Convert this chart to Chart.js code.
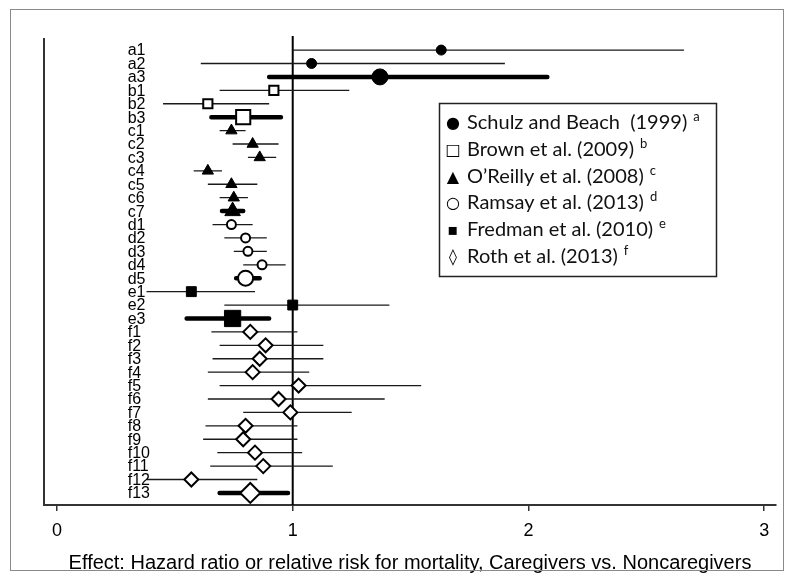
<!DOCTYPE html>
<html>
<head>
<meta charset="utf-8">
<script src="https://cdn.jsdelivr.net/npm/chart.js@4.4.0/dist/chart.umd.min.js"></script>
<style>
  body { margin: 0; background: #fff; }
</style>
</head>
<body>
<canvas id="myChart" width="789" height="587"></canvas>
<script>
// rows of the forest plot, top to bottom
const rowLabels = ['a1','a2','a3','b1','b2','b3','c1','c2','c3','c4','c5','c6','c7',
    'd1','d2','d3','d4','d5','e1','e2','e3',
    'f1','f2','f3','f4','f5','f6','f7','f8','f9','f10','f11','f12','f13'];
const estimates = [1.63, 1.08, 1.37, 0.92, 0.64, 0.79, 0.74, 0.83, 0.86, 0.64, 0.74, 0.75, 0.745,
    0.74, 0.80, 0.81, 0.87, 0.80, 0.57, 1.00, 0.745,
    0.82, 0.885, 0.86, 0.83, 1.025, 0.94, 0.99, 0.80, 0.79, 0.84, 0.875, 0.57, 0.82];
const lowerCI = [1.00, 0.61, 0.90, 0.69, 0.45, 0.655, 0.69, 0.745, 0.81, 0.58, 0.64, 0.69, 0.70,
    0.66, 0.71, 0.75, 0.79, 0.76, 0.38, 0.71, 0.55,
    0.655, 0.69, 0.66, 0.64, 0.69, 0.64, 0.79, 0.63, 0.62, 0.68, 0.65, 0.38, 0.69];
const upperCI = [2.66, 1.90, 2.08, 1.24, 0.90, 0.95, 0.80, 0.94, 0.93, 0.70, 0.85, 0.81, 0.79,
    0.83, 0.89, 0.89, 0.97, 0.86, 0.84, 1.41, 0.90,
    1.02, 1.13, 1.13, 1.07, 1.545, 1.39, 1.25, 1.02, 1.02, 1.04, 1.17, 0.85, 0.98];
const pooledRows = ['a3','b3','c7','d5','e3','f13'];

const studyKeys = ['a','b','c','d','e','f'];
const studyNames = ['Schulz and Beach  (1999)', 'Brown et al. (2009)', 'O\u2019Reilly et al. (2008)',
    'Ramsay et al. (2013)', 'Fredman et al. (2010)', 'Roth et al. (2013)'];
const legendSymbols = ['\u25CF', '\u25A1', '\u25B2', '\u25CB', '\u25AA', '\u25CA'];

const xTicks = [0, 1, 2, 3];
const xTitle = 'Effect: Hazard ratio or relative risk for mortality, Caregivers vs. Noncaregivers';

// marker look per study
const markerStyle = {
    a: {style: 'circle', fill: true, r: 5, rp: 8},
    b: {style: 'rect', fill: false, r: 6.5, rp: 10},
    c: {style: 'triangle', fill: true, r: 6.5, rp: 9},
    d: {style: 'circle', fill: false, r: 4.5, rp: 7.5},
    e: {style: 'rect', fill: true, r: 7, rp: 11.5},
    f: {style: 'rectRot', fill: false, r: 7, rp: 10}
};

const ciLines = (thick) => {
    let pts = [];
    rowLabels.forEach((lab, i) => {
        if (pooledRows.includes(lab) !== thick) return;
        pts.push({x: lowerCI[i], y: i + 1});
        pts.push({x: upperCI[i], y: i + 1});
        pts.push({x: upperCI[i], y: null});
    });
    return pts;
}

let datasets = [];
studyKeys.forEach((k) => {
    let s = markerStyle[k];
    let pts = [], radii = [];
    rowLabels.forEach((lab, i) => {
        if (lab[0] !== k) return;
        pts.push({x: estimates[i], y: i + 1});
        radii.push(pooledRows.includes(lab) ? s.rp : s.r);
    });
    datasets.push({
        type: 'scatter',
        data: pts,
        pointStyle: s.style,
        pointRadius: radii,
        pointBackgroundColor: s.fill ? '#000' : '#fff',
        pointBorderColor: '#000',
        pointBorderWidth: s.fill ? 1 : 2,
        order: 1
    });
});
datasets.push({type: 'line', data: ciLines(false), borderColor: '#1a1a1a', borderWidth: 1.3,
    pointRadius: 0, spanGaps: false, order: 2});
datasets.push({type: 'line', data: ciLines(true), borderColor: '#000', borderWidth: 4.5,
    borderCapStyle: 'round', pointRadius: 0, spanGaps: false, order: 2});

const overlay = {
    id: 'overlay',
    beforeDraw(chart) {
        const ctx = chart.ctx;
        ctx.save();
        ctx.fillStyle = '#fff';
        ctx.fillRect(0, 0, chart.width, chart.height);
        ctx.restore();
    },
    beforeDatasetsDraw(chart) {
        const {ctx, chartArea, scales} = chart;
        ctx.save();
        ctx.strokeStyle = '#333';
        ctx.lineWidth = 2;
        ctx.beginPath();
        ctx.moveTo(chartArea.left, chartArea.top);
        ctx.lineTo(chartArea.left, chartArea.bottom);
        ctx.stroke();
        const x1 = scales.x.getPixelForValue(1);
        ctx.strokeStyle = '#000';
        ctx.beginPath();
        ctx.moveTo(x1, chartArea.top - 2);
        ctx.lineTo(x1, chartArea.bottom);
        ctx.stroke();
        ctx.restore();
    },
    afterDraw(chart) {
        const {ctx, scales} = chart;
        ctx.save();
        // row labels
        ctx.fillStyle = '#000';
        ctx.font = '16px "Liberation Sans Narrow", "Liberation Sans", Arial';
        ctx.textBaseline = 'middle';
        ctx.textAlign = 'left';
        const lx = scales.x.getPixelForValue(0.30);
        rowLabels.forEach((lab, i) => {
            ctx.fillText(lab, lx, scales.y.getPixelForValue(i + 1) + 1);
        });

        // legend box
        const bx = 439, by = 103, bw = 277, bh = 173;
        ctx.strokeStyle = '#222';
        ctx.lineWidth = 1.5;
        ctx.strokeRect(bx + 0.5, by + 0.5, bw, bh);
        ctx.textBaseline = 'alphabetic';
        studyNames.forEach((name, i) => {
            const base = by + 26 + i * 26.8;
            ctx.textAlign = 'center';
            ctx.fillStyle = '#000';
            ctx.font = '16px "DejaVu Sans"';
            ctx.fillText(legendSymbols[i], bx + 14, base - 1);
            ctx.textAlign = 'left';
            ctx.fillStyle = '#111';
            ctx.font = '20px Lato';
            const tx = bx + 28;
            ctx.fillText(name, tx, base);
            const w = ctx.measureText(name).width;
            ctx.font = '13px Lato';
            ctx.fillText(studyKeys[i], tx + w + 6, base - 8);
        });

        // outer frame
        ctx.strokeStyle = '#8a8a8a';
        ctx.lineWidth = 1;
        ctx.strokeRect(10.5, 9.5, 773, 561);
        ctx.restore();
    }
};

new Chart(document.getElementById('myChart'), {
    data: {datasets: datasets},
    plugins: [overlay],
    options: {
        responsive: false,
        animation: false,
        layout: {padding: {left: 44, right: 13, top: 38, bottom: 0}},
        plugins: {legend: {display: false}, tooltip: {enabled: false}},
        scales: {
            x: {
                type: 'linear',
                min: -0.055,
                max: 3.05,
                afterBuildTicks: (scale) => { scale.ticks = xTicks.map(v => ({value: v})); },
                afterFit: (scale) => { scale.height = 82; },
                grid: {drawOnChartArea: false, drawTicks: true, tickLength: 6, color: '#333', lineWidth: 1.5},
                border: {display: true, color: '#333', width: 2},
                ticks: {color: '#000', padding: 9, font: {family: '"Liberation Sans", Arial', size: 18}, maxRotation: 0},
                title: {display: true, text: xTitle, color: '#000',
                    font: {family: '"Liberation Sans", Arial', size: 20}, padding: {top: 0, bottom: 12}}
            },
            y: {
                type: 'linear',
                display: false,
                reverse: true,
                min: 0.1,
                max: 34.9
            }
        }
    }
});
</script>
</body>
</html>
